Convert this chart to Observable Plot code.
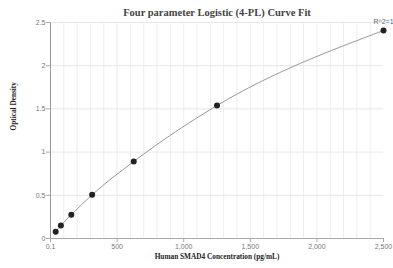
<!DOCTYPE html>
<html>
<head>
<meta charset="utf-8">
<script src="https://cdn.jsdelivr.net/npm/d3@7"></script>
<script src="https://cdn.jsdelivr.net/npm/@observablehq/plot@0.6"></script>
<style>
  html, body { margin: 0; padding: 0; background: #fff; }
  #chart svg { display: block; }
</style>
</head>
<body>
<div id="chart"></div>
<script>
const concentration = [39.0625, 78.125, 156.25, 312.5, 625, 1250, 2500];
const opticalDensity = [0.078, 0.150, 0.274, 0.506, 0.891, 1.539, 2.407];
const xTicks = [0.1, 500, 1000, 1500, 2000, 2500];
const xTickLabels = ["0.1", "500", "1,000", "1,500", "2,000", "2,500"];
const xGrid = [100, 200, 300, 400, 500, 600, 700, 800, 900, 1000, 1100, 1200, 1300, 1400, 1500, 1600, 1700, 1800, 1900, 2000, 2100, 2200, 2300, 2400];
const yTicks = [0, 0.5, 1, 1.5, 2, 2.5];
const yTickLabels = ["0", "0.5", "1", "1.5", "2", "2.5"];
const title = "Four parameter Logistic (4-PL) Curve Fit";
const xLabel = "Human SMAD4 Concentration (pg/mL)";
const yLabel = "Optical Density";
const r2Label = "R^2=1";

const data = concentration.map((c, i) => ({c, od: opticalDensity[i]}));
const serif = "'Liberation Serif', 'Times New Roman', serif";
const sans = "'Liberation Sans', Arial, sans-serif";

const plot = Plot.plot({
  width: 393,
  height: 268,
  marginLeft: 50,
  marginRight: 10,
  marginTop: 22,
  marginBottom: 30,
  style: {fontFamily: sans, background: "#fff"},
  x: {type: "linear", domain: [0.1, 2500]},
  y: {domain: [0, 2.5]},
  marks: [
    Plot.ruleX(xGrid, {stroke: "#ededf3", strokeWidth: 1}),
    Plot.ruleY(yTicks.slice(1), {stroke: "#e6e6f0", strokeWidth: 1}),
    Plot.axisX({ticks: xTicks, tickFormat: (d, i) => xTickLabels[i], tickSize: 4, tickPadding: 2, fontSize: 7, color: "#777", stroke: "#aaa", label: null}),
    Plot.axisY({ticks: yTicks, tickFormat: (d, i) => yTickLabels[i], tickSize: 4, tickPadding: 1, fontSize: 7, color: "#777", stroke: "#aaa", label: null}),
    Plot.ruleX([0.1], {stroke: "#999"}),
    Plot.ruleY([0], {stroke: "#aaa"}),
    Plot.line(data, {x: "c", y: "od", curve: "monotone-x", stroke: "#999", strokeWidth: 1}),
    Plot.dot(data, {x: "c", y: "od", r: 3, fill: "#222", stroke: "none"}),
    Plot.text([r2Label], {x: concentration[concentration.length - 1], y: opticalDensity[opticalDensity.length - 1], dy: -9, fontSize: 7, fill: "#666", fontFamily: sans}),
    Plot.text([title], {frameAnchor: "top", dy: -14, fontSize: 10.5, fontWeight: "bold", fontFamily: serif, fill: "#444"}),
    Plot.text([xLabel], {frameAnchor: "bottom", dy: 20, fontSize: 7.3, fontWeight: "bold", fontFamily: serif, fill: "#222"}),
    Plot.text([yLabel], {frameAnchor: "left", dx: -37, dy: 0, rotate: -90, fontSize: 7.3, fontWeight: "bold", fontFamily: serif, fill: "#222"})
  ]
});
document.getElementById("chart").appendChild(plot);
</script>
</body>
</html>
